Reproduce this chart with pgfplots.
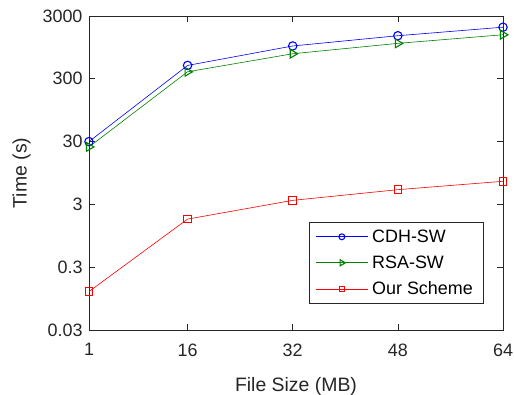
\documentclass[border=0pt]{standalone}
\usepackage{pgfplots}
\pgfplotsset{compat=1.18}
\usepackage{fontspec}
\setmainfont{Liberation Sans}
\definecolor{axgray}{rgb}{0.15,0.15,0.15}
\definecolor{mgreen}{rgb}{0,0.5,0}
\begin{document}
\begin{tikzpicture}[x=1bp,y=1bp]
\path[use as bounding box] (-89bp,-65bp) rectangle (425bp,330bp);
\begin{axis}[
  at={(0,0)}, anchor=south west,
  scale only axis, width=414bp, height=314bp,
  xmin=1, xmax=64, ymode=log, ymin=0.03, ymax=3000,
  xtick={1,16,32,48,64},
  ytick={0.03,0.3,3,30,300,3000},
  yticklabels={0.03,0.3,3,30,300,3000},
  yminorticks=false,
  /pgf/number format/assume math mode=true,
  tick align=inside, major tick length=6bp,
  axis line style={axgray, line width=0.6bp},
  every tick/.style={axgray, line width=0.6bp},
  tick label style={font=\fontsize{18}{21}\selectfont, text=axgray},
  xticklabel style={yshift=-10bp},
  yticklabel style={xshift=-3bp},
  label style={font=\fontsize{19.5}{23}\selectfont, text=axgray},
  xlabel={File Size (MB)}, ylabel={Time (s)},
  xlabel style={yshift=-14bp},
  ylabel style={yshift=5bp},
  legend style={at={(rel axis cs:0.952,0.344)}, anchor=north east,
    draw=axgray, line width=0.6bp, fill=white,
    nodes={font=\fontsize{18}{21}\selectfont, text=black, inner xsep=4bp},
    row sep=8bp, inner xsep=6bp, inner ysep=5.5bp},
  legend cell align=left,
  legend image code/.code={\draw[#1,mark repeat=2,mark phase=2,every mark/.append style={scale=0.7}] plot coordinates {(0bp,0bp) (26bp,0bp) (52bp,0bp)};},
]
\addplot[blue, line width=0.6bp, mark=o, mark size=4.2bp, mark options={line width=1.1bp}] coordinates {(1,30) (16,490) (32,1000) (48,1456) (64,1990)};
\addlegendentry{CDH-SW}
\addplot[mgreen, line width=0.6bp, mark=triangle, mark size=5bp, mark options={rotate=-90,line width=1.1bp}] coordinates {(1,24.7) (16,388) (32,752) (48,1100) (64,1508)};
\addlegendentry{RSA-SW}
\addplot[red, line width=0.6bp, mark=square, mark size=3.8bp, mark options={line width=1.1bp}] coordinates {(1,0.123) (16,1.75) (32,3.48) (48,5.15) (64,7.0)};
\addlegendentry{Our Scheme}
\end{axis}
\end{tikzpicture}
\end{document}
